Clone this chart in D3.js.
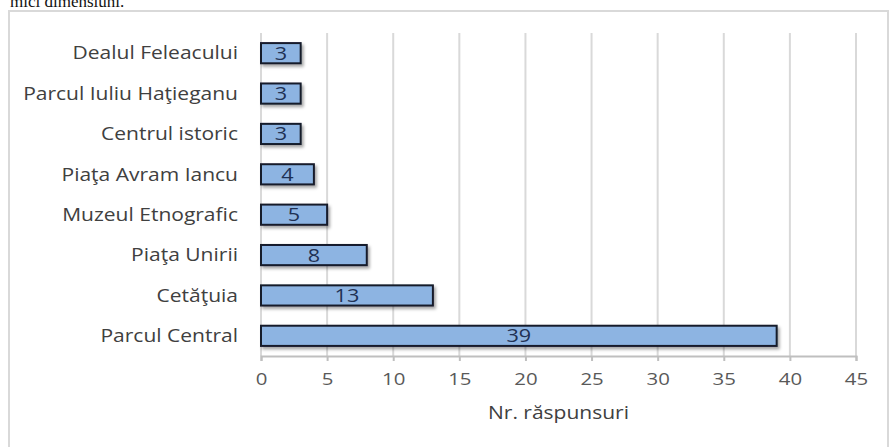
<!DOCTYPE html>
<html>
<head>
<meta charset="utf-8">
<script src="https://cdn.jsdelivr.net/npm/d3@7"></script>
<style>
  html, body { margin: 0; padding: 0; background: #fff; }
  svg { display: block; }
</style>
</head>
<body>
<svg id="chart" width="891" height="447"></svg>
<script>
// Places named in the survey, top to bottom, and their response counts
const places = ["Dealul Feleacului", "Parcul Iuliu Haţieganu", "Centrul istoric", "Piaţa Avram Iancu",
                "Muzeul Etnografic", "Piaţa Unirii", "Cetăţuia", "Parcul Central"];
const responses = [3, 3, 3, 4, 5, 8, 13, 39];
const xTicks = [0, 5, 10, 15, 20, 25, 30, 35, 40, 45];
const xTitle = "Nr. răspunsuri";
const captionAbove = "mici dimensiuni.";

const data = places.map((p, i) => ({ place: p, value: responses[i] }));

const svg = d3.select("#chart");
const plot = { left: 261, right: 856, top: 33, bottom: 356 };
const sans = "'Open Sans', Lato, sans-serif";
const widen = 1.2; // chart lettering is set wide

// stretch a text selection horizontally around its anchor
function stretch(sel) {
  sel.each(function () {
    const w = this.getComputedTextLength();
    d3.select(this).attr("textLength", w * widen).attr("lengthAdjust", "spacingAndGlyphs");
  });
}

const defs = svg.append("defs");
const shadow = defs.append("filter").attr("id", "shadow")
  .attr("x", "-10%").attr("y", "-30%").attr("width", "130%").attr("height", "190%");
shadow.append("feDropShadow").attr("dx", 2).attr("dy", 2.5).attr("stdDeviation", 1.5)
  .attr("flood-color", "#000").attr("flood-opacity", 0.35);

// text line from the page above the chart frame
svg.append("text").attr("x", 10).attr("y", 7)
  .attr("font-family", "'Liberation Serif', 'DejaVu Serif', serif")
  .attr("font-size", 17).attr("fill", "#111").text(captionAbove);

// chart frame
svg.append("rect").attr("x", 9).attr("y", 11).attr("width", 879).attr("height", 440)
  .attr("fill", "#fff").attr("stroke", "#d9d9d9").attr("stroke-width", 2);

const x = d3.scaleLinear().domain([0, 45]).range([plot.left, plot.right]);
const y = d3.scaleBand().domain(places).range([plot.top, plot.bottom]).paddingInner(0.5).paddingOuter(0.25);

// vertical gridlines
svg.append("g").selectAll("line").data(xTicks).join("line")
  .attr("x1", d => x(d)).attr("x2", d => x(d))
  .attr("y1", plot.top).attr("y2", plot.bottom)
  .attr("stroke", "#d9d9d9").attr("stroke-width", 2);

// x axis
const xAxis = svg.append("g").attr("transform", `translate(0,${plot.bottom})`)
  .call(d3.axisBottom(x).tickValues(xTicks).tickSize(5).tickPadding(12));
xAxis.select(".domain").attr("stroke", "#bfbfbf").attr("stroke-width", 2);
xAxis.selectAll(".tick line").attr("stroke", "#bfbfbf").attr("stroke-width", 2);
xAxis.selectAll(".tick text").attr("font-family", sans)
  .attr("font-size", 17).attr("fill", "#595959").call(stretch);

// bars
svg.append("g").selectAll("rect").data(data).join("rect")
  .attr("x", x(0)).attr("y", d => y(d.place))
  .attr("width", d => x(d.value) - x(0)).attr("height", y.bandwidth())
  .attr("fill", "#8db4e2").attr("stroke", "#161b2b").attr("stroke-width", 2)
  .attr("filter", "url(#shadow)");

// value labels
svg.append("g").selectAll("text").data(data).join("text")
  .attr("x", d => (x(0) + x(d.value)) / 2)
  .attr("y", d => y(d.place) + y.bandwidth() / 2)
  .attr("dy", "0.36em").attr("text-anchor", "middle")
  .attr("font-family", sans).attr("font-size", 18)
  .attr("fill", "#1f3154").text(d => d.value).call(stretch);

// category labels
svg.append("g").selectAll("text").data(data).join("text")
  .attr("x", 238).attr("y", d => y(d.place) + y.bandwidth() / 2)
  .attr("dy", "0.36em").attr("text-anchor", "end")
  .attr("font-family", sans).attr("font-size", 17.5)
  .attr("fill", "#404040").text(d => d.place).call(stretch);

// axis title
svg.append("text").attr("x", (plot.left + plot.right) / 2).attr("y", 419)
  .attr("text-anchor", "middle")
  .attr("font-family", sans).attr("font-size", 17.5)
  .attr("fill", "#404040").text(xTitle).call(stretch);
</script>
</body>
</html>
